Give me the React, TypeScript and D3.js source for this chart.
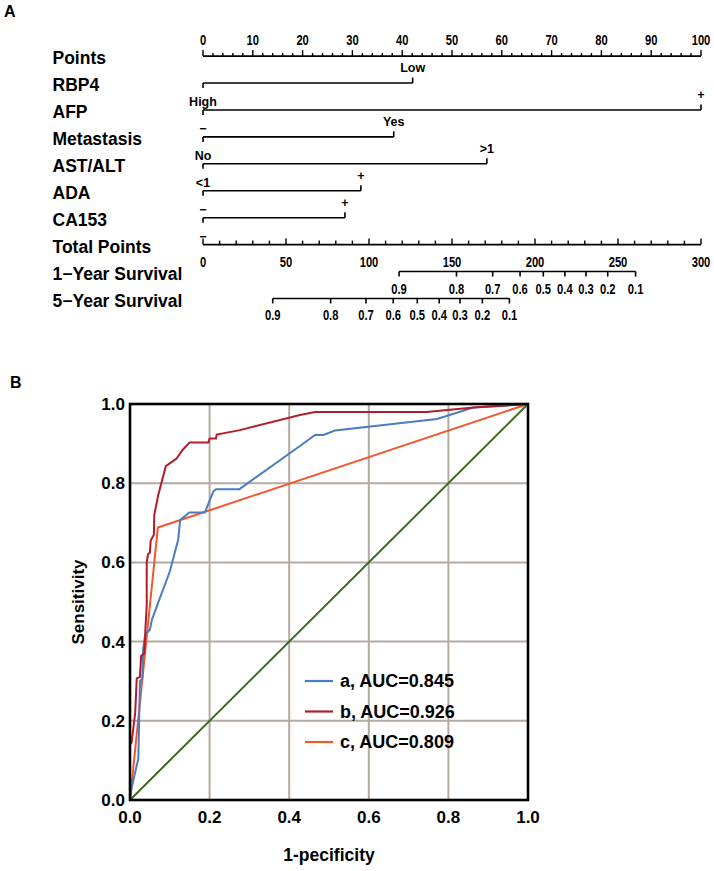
import React from "react";
import * as d3 from "d3";

// ---------- Nomogram data ----------
const pointsTicks = d3.range(0, 101, 10);
const pointsMinor = d3.range(0, 101, 2);
const variables = ["RBP4", "AFP", "Metastasis", "AST/ALT", "ADA", "CA153"];
const maxPoints = [42.1, 100, 38.3, 57.0, 31.7, 28.5];
const leftLabels = ["High", "\u2212", "No", "<1", "\u2212", "\u2212"];
const rightLabels = ["Low", "+", "Yes", ">1", "+", "+"];
const totalTicks = d3.range(0, 301, 50);
const totalMinor = d3.range(0, 301, 10);
const survProbs = ["0.9", "0.8", "0.7", "0.6", "0.5", "0.4", "0.3", "0.2", "0.1"];
const oneYearPts = [118.1, 152.7, 174.5, 191, 205, 218, 230.7, 243.8, 260.6];
const fiveYearPts = [42.0, 76.9, 98.2, 114.6, 129.1, 142.3, 154.8, 168.3, 184.6];

// ---------- ROC data ----------
const rocTicks = [0, 0.2, 0.4, 0.6, 0.8, 1.0];
const curveA: [number, number][] = [
  [0, 0], [0.004, 0.03], [0.021, 0.105], [0.025, 0.3], [0.031, 0.307], [0.033, 0.38],
  [0.038, 0.417], [0.05, 0.43], [0.055, 0.455], [0.075, 0.51], [0.1, 0.577], [0.121, 0.657],
  [0.126, 0.707], [0.149, 0.726], [0.188, 0.726], [0.209, 0.778], [0.216, 0.785], [0.275, 0.785],
  [0.427, 0.894], [0.465, 0.922], [0.486, 0.922], [0.515, 0.933], [0.771, 0.962], [0.863, 0.991], [1, 1],
];
const curveB: [number, number][] = [
  [0, 0], [0, 0.14], [0.004, 0.145], [0.013, 0.22], [0.017, 0.307], [0.025, 0.311], [0.028, 0.364],
  [0.036, 0.37], [0.039, 0.438], [0.042, 0.49], [0.042, 0.6], [0.045, 0.62], [0.05, 0.625],
  [0.052, 0.655], [0.06, 0.67], [0.061, 0.72], [0.071, 0.77], [0.09, 0.843], [0.1, 0.85],
  [0.117, 0.862], [0.132, 0.884], [0.15, 0.903], [0.197, 0.903], [0.2, 0.913], [0.216, 0.913],
  [0.218, 0.923], [0.276, 0.934], [0.427, 0.972], [0.465, 0.98], [0.745, 0.98], [0.863, 0.991], [1, 1],
];
const curveC: [number, number][] = [[0, 0], [0.07, 0.688], [1, 1]];
const diagonal: [number, number][] = [[0, 0], [1, 1]];
const legendLabels = ["a, AUC=0.845", "b, AUC=0.926", "c, AUC=0.809"];
const curveColors = ["#4b7cc3", "#b11e2b", "#f2562b"];

const FONT = "'Liberation Sans', Arial, sans-serif";

// narrow numeric label (horizontally condensed)
function NumLabel({ x, y, children }: { x: number; y: number; children: React.ReactNode }) {
  return (
    <text
      transform={`translate(${x},${y}) scale(0.8,1)`}
      textAnchor="middle"
      fontFamily={FONT}
      fontWeight="bold"
      fontSize={14}
    >
      {children}
    </text>
  );
}

export default function App() {
  const xP = d3.scaleLinear().domain([0, 100]).range([203, 701]);
  const xT = d3.scaleLinear().domain([0, 300]).range([203, 701]);
  const rowBase = (i: number) => 64.3 + i * 26.93;
  const lineY = (i: number) => rowBase(i) - 8.2;
  const rowNames = ["Points", ...variables, "Total Points", "1\u2212Year Survival", "5\u2212Year Survival"];

  const rx = d3.scaleLinear().domain([0, 1]).range([130, 528]);
  const ry = d3.scaleLinear().domain([0, 1]).range([800, 404]);
  const line = d3.line<[number, number]>().x((d) => rx(d[0])).y((d) => ry(d[1]));

  const pointsY = lineY(0);
  const totalY = lineY(7);
  const oneY = lineY(8);
  const fiveY = lineY(9);

  const survAxis = (pts: number[], y: number, key: string) => (
    <g key={key}>
      <line x1={xT(d3.min(pts)!)} x2={xT(d3.max(pts)!)} y1={y} y2={y} stroke="#000" strokeWidth={1.6} />
      {pts.map((p, i) => (
        <g key={i}>
          <line x1={xT(p)} x2={xT(p)} y1={y} y2={y + 5} stroke="#000" strokeWidth={1.6} />
          <NumLabel x={xT(p)} y={y + 22}>{survProbs[i]}</NumLabel>
        </g>
      ))}
    </g>
  );

  return (
    <svg width={714} height={871} style={{ position: "absolute", left: 0, top: 0, background: "#fff" }}>
      <rect x={0} y={0} width={714} height={871} fill="#fff" />
      {/* Panel labels */}
      <text x={4} y={17} fontFamily={FONT} fontWeight="bold" fontSize={16}>A</text>
      <text x={10} y={388} fontFamily={FONT} fontWeight="bold" fontSize={16}>B</text>

      {/* Row names */}
      {rowNames.map((n, i) => (
        <text key={n} x={52.5} y={rowBase(i)} fontFamily={FONT} fontWeight="bold" fontSize={17.5}>
          {n}
        </text>
      ))}

      {/* Points axis */}
      <line x1={xP(0)} x2={xP(100)} y1={pointsY} y2={pointsY} stroke="#000" strokeWidth={1.6} />
      {pointsMinor.map((v) => (
        <line key={v} x1={xP(v)} x2={xP(v)} y1={pointsY} y2={pointsY - (v % 10 === 0 ? 6 : 3)} stroke="#000" strokeWidth={1.4} />
      ))}
      {pointsTicks.map((v) => (
        <NumLabel key={v} x={xP(v)} y={pointsY - 11}>{v}</NumLabel>
      ))}

      {/* Variables */}
      {variables.map((v, i) => {
        const y = lineY(i + 1);
        const x1 = xP(0);
        const x2 = xP(maxPoints[i]);
        return (
          <g key={v}>
            <line x1={x1} x2={x2} y1={y} y2={y} stroke="#000" strokeWidth={1.6} />
            <line x1={x1} x2={x1} y1={y} y2={y + 5} stroke="#000" strokeWidth={1.6} />
            <line x1={x2} x2={x2} y1={y} y2={y - 5.5} stroke="#000" strokeWidth={1.6} />
            <text x={x2} y={y - 11} textAnchor="middle" fontFamily={FONT} fontWeight="bold" fontSize={12.5}>
              {rightLabels[i]}
            </text>
            <text x={x1} y={y + 23} textAnchor="middle" fontFamily={FONT} fontWeight="bold" fontSize={12.5}>
              {leftLabels[i]}
            </text>
          </g>
        );
      })}

      {/* Total points axis */}
      <line x1={xT(0)} x2={xT(300)} y1={totalY} y2={totalY} stroke="#000" strokeWidth={1.6} />
      {totalMinor.map((v) => (
        <line key={v} x1={xT(v)} x2={xT(v)} y1={totalY} y2={totalY - (v % 50 === 0 ? 6 : 4)} stroke="#000" strokeWidth={1.4} />
      ))}
      {totalTicks.map((v) => (
        <NumLabel key={v} x={xT(v)} y={totalY + 22}>{v}</NumLabel>
      ))}

      {survAxis(oneYearPts, oneY, "one")}
      {survAxis(fiveYearPts, fiveY, "five")}

      {/* ROC panel */}
      {rocTicks.slice(1, 5).map((t) => (
        <g key={t}>
          <line x1={rx(t)} x2={rx(t)} y1={ry(0)} y2={ry(1)} stroke="#b3aaa3" strokeWidth={2} />
          <line x1={rx(0)} x2={rx(1)} y1={ry(t)} y2={ry(t)} stroke="#b3aaa3" strokeWidth={2} />
        </g>
      ))}
      <path d={line(diagonal)!} fill="none" stroke="#3e6a1e" strokeWidth={2} />
      <path d={line(curveC)!} fill="none" stroke={curveColors[2]} strokeWidth={2} />
      <path d={line(curveA)!} fill="none" stroke={curveColors[0]} strokeWidth={2} />
      <path d={line(curveB)!} fill="none" stroke={curveColors[1]} strokeWidth={2} />
      <rect x={rx(0)} y={ry(1)} width={rx(1) - rx(0)} height={ry(0) - ry(1)} fill="none" stroke="#000" strokeWidth={2.6} />

      {rocTicks.map((t) => (
        <text key={"y" + t} x={125} y={ry(t) + 6} textAnchor="end" fontFamily={FONT} fontWeight="bold" fontSize={17}>
          {t.toFixed(1)}
        </text>
      ))}
      {rocTicks.map((t) => (
        <text key={"x" + t} x={rx(t)} y={823} textAnchor="middle" fontFamily={FONT} fontWeight="bold" fontSize={17}>
          {t.toFixed(1)}
        </text>
      ))}
      <text
        transform={`translate(84,${(ry(0) + ry(1)) / 2}) rotate(-90)`}
        textAnchor="middle"
        fontFamily={FONT}
        fontWeight="bold"
        fontSize={17}
      >
        Sensitivity
      </text>
      <text x={(rx(0) + rx(1)) / 2} y={861} textAnchor="middle" fontFamily={FONT} fontWeight="bold" fontSize={17.5}>
        1-pecificity
      </text>

      {legendLabels.map((l, i) => {
        const y = 681 + i * 30.5;
        return (
          <g key={l}>
            <line x1={305} x2={333} y1={y} y2={y} stroke={curveColors[i]} strokeWidth={2.2} />
            <text x={340} y={y + 6} fontFamily={FONT} fontWeight="bold" fontSize={18}>
              {l}
            </text>
          </g>
        );
      })}
    </svg>
  );
}
